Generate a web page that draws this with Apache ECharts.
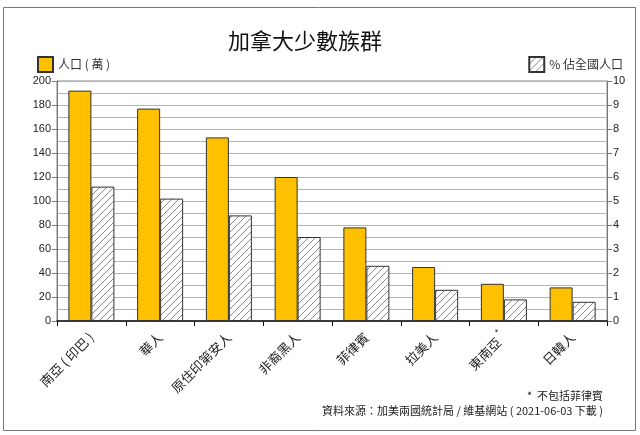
<!DOCTYPE html>
<html><head><meta charset="utf-8">
<script src="https://cdn.jsdelivr.net/npm/echarts@6/dist/echarts.min.js"></script>
<style>html,body{margin:0;padding:0;background:#fff}#c{width:640px;height:435px}</style>
</head><body><div id="c"></div>
<script>
const categories = ["南亞 ( 印巴 )", "華人", "原住印第安人", "非裔黑人", "菲律賓", "拉美人", "東南亞*", "日韓人"];
const population = [192, 177, 153, 120, 78, 45, 31, 28];
const percent = [5.6, 5.1, 4.4, 3.5, 2.3, 1.3, 0.9, 0.8];
const seriesNames = ["人口 ( 萬 )", "% 佔全國人口"];
const leftTicks = [0, 200, 20];
const rightTicks = [0, 10, 1];

const FONT = '"Noto Sans CJK TC", "Liberation Sans", sans-serif';
function hatch() {
  const s = 7;
  const c = document.createElement('canvas');
  c.width = s; c.height = s;
  const g = c.getContext('2d');
  g.fillStyle = '#fff'; g.fillRect(0, 0, s, s);
  g.strokeStyle = '#8a8a8a'; g.lineWidth = 1;
  g.beginPath();
  g.moveTo(-1, s + 1); g.lineTo(s + 1, -1);
  g.moveTo(-1, 1); g.lineTo(1, -1);
  g.moveTo(s - 1, s + 1); g.lineTo(s + 1, s - 1);
  g.stroke();
  return c;
}
const pat = { image: hatch(), repeat: 'repeat' };

const chart = echarts.init(document.getElementById('c'), null, { renderer: 'canvas' });
chart.setOption({
  animation: false,
  backgroundColor: '#fff',
  textStyle: { fontFamily: FONT },
  title: {
    text: '加拿大少數族群', left: 300, top: 25, textAlign: 'center',
    textStyle: { fontSize: 22, fontWeight: 'normal', color: '#111', fontFamily: FONT }
  },
  legend: [
    { data: [seriesNames[0]], left: 32, top: 51, itemWidth: 15, itemHeight: 15, itemGap: 4, icon: 'rect',
      textStyle: { fontSize: 12, color: '#333', fontFamily: FONT } },
    { data: [seriesNames[1]], right: 12, top: 51, itemWidth: 15, itemHeight: 15, itemGap: 4, icon: 'rect',
      textStyle: { fontSize: 12, color: '#333', fontFamily: FONT } }
  ],
  grid: { left: 57, right: 33, top: 81, bottom: 114, containLabel: false, show: true, borderColor: '#888', borderWidth: 1 },
  xAxis: {
    type: 'category', data: categories,
    axisLine: { lineStyle: { color: '#111', width: 1.5 } },
    axisTick: { show: true, length: 5, lineStyle: { color: '#111' } },
    axisLabel: {
      rotate: 45, fontSize: 13, color: '#222', margin: 14, fontFamily: FONT, interval: 0,
      formatter: v => v.endsWith('*') ? v.slice(0, -1) + '{s|*}' : v,
      rich: { s: { fontSize: 9, color: '#222', padding: [0, 0, 12, 3] } }
    }
  },
  yAxis: [
    { type: 'value', min: leftTicks[0], max: leftTicks[1], interval: leftTicks[2],
      axisLine: { show: true, lineStyle: { color: '#777' } },
      axisTick: { show: true, length: 5, lineStyle: { color: '#777' } },
      axisLabel: { fontSize: 11, color: '#222', margin: 6, fontFamily: '"Liberation Sans", Arial, sans-serif' },
      splitLine: { show: true, lineStyle: { color: '#b4b4b4' } },
      minorTick: { show: false, splitNumber: 2 },
      minorSplitLine: { show: true, lineStyle: { color: '#b4b4b4' } } },
    { type: 'value', min: rightTicks[0], max: rightTicks[1], interval: rightTicks[2], position: 'right',
      axisLine: { show: true, lineStyle: { color: '#777' } },
      axisTick: { show: true, length: 5, lineStyle: { color: '#777' } },
      axisLabel: { fontSize: 11, color: '#222', margin: 6, fontFamily: '"Liberation Sans", Arial, sans-serif' },
      splitLine: { show: false } }
  ],
  series: [
    { name: seriesNames[0], type: 'bar', yAxisIndex: 0, data: population, barWidth: 23, barGap: '0%',
      itemStyle: { color: '#FFC000', borderColor: '#333', borderWidth: 1 } },
    { name: seriesNames[1], type: 'bar', yAxisIndex: 1, data: percent, barWidth: 23, barGap: '0%',
      itemStyle: { color: pat, borderColor: '#333', borderWidth: 1 } }
  ],
  graphic: [
    { type: 'rect', shape: { x: 3.5, y: 7.5, width: 632, height: 423 }, style: { fill: 'none', stroke: '#777', lineWidth: 1 }, silent: true },
    { type: 'text', x: 603, y: 390, style: { text: '*  不包括菲律賓', align: 'right', fill: '#222', font: '11px ' + FONT } },
    { type: 'text', x: 603, y: 405, style: { text: '資料來源：加美兩國統計局 / 維基網站 ( 2021-06-03 下載 )', align: 'right', fill: '#222', font: '11px ' + FONT } }
  ]
});
</script></body></html>
